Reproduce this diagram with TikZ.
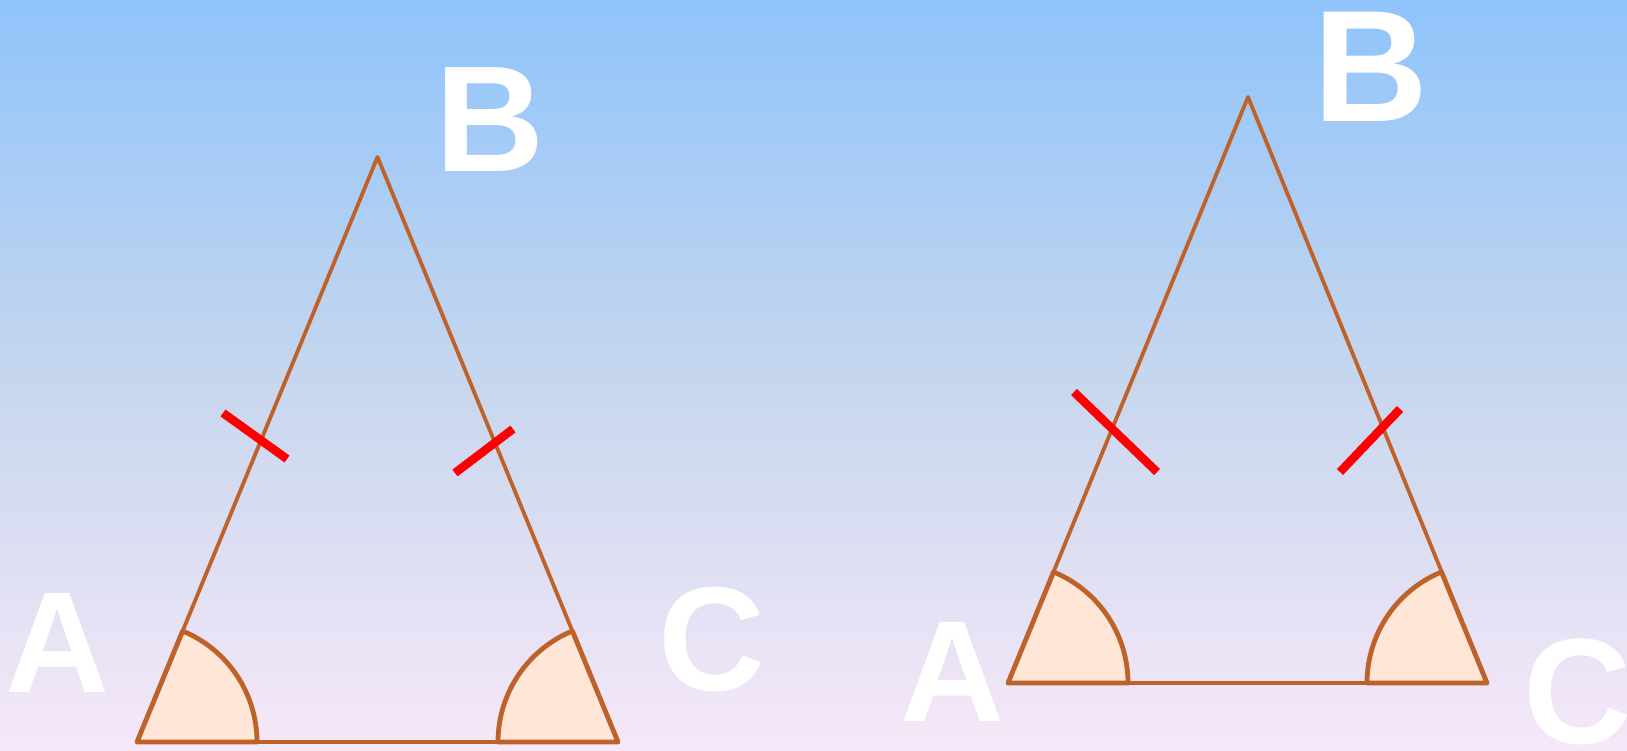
\documentclass[tikz,border=0pt]{standalone}
\usepackage{fontspec}
\setmainfont{Liberation Sans}
\usepackage{tikz}
\usetikzlibrary{calc}

\definecolor{skytop}{RGB}{143,196,251}
\definecolor{skymid}{RGB}{198,214,238}
\definecolor{skybottom}{RGB}{246,232,248}
\definecolor{rust}{RGB}{190,98,42}
\definecolor{peach}{RGB}{255,230,214}

\begin{document}
\begin{tikzpicture}[x=1pt, y=1pt, line join=round]
        % Define styles
        \tikzstyle{trside} = [draw=rust, line width=3.8pt]
        \tikzstyle{anglefill} = [draw=rust, fill=peach, line width=4.8pt]
        \tikzstyle{hashmark} = [draw=red, line width=8.5pt]
        \tikzstyle{vlabel} = [text=white, font=\bfseries\fontsize{144}{144}\selectfont, inner sep=0pt]

        % Background
        \useasboundingbox (0,0) rectangle (1627,750);
        \clip (0,0) rectangle (1627,750);
        \shade[top color=skytop, bottom color=skybottom, middle color=skymid] (0,0) rectangle (1627,750);

        % Left triangle
        \coordinate (A1) at (137,8);
        \coordinate (B1) at (377.5,593);
        \coordinate (C1) at (618,8);
        \draw[trside] (A1) -- (B1) -- (C1) -- cycle;
        \draw[anglefill] (A1) -- ++(0:120) arc[start angle=0, end angle=67.65, radius=120] -- cycle;
        \draw[anglefill] (C1) -- ++(180:120) arc[start angle=180, end angle=112.35, radius=120] -- cycle;
        \coordinate (m1a) at (223,337);
        \coordinate (m1b) at (287,291);
        \coordinate (m1c) at (455,277);
        \coordinate (m1d) at (513,321);
        \draw[hashmark] (m1a) -- (m1b);
        \draw[hashmark] (m1c) -- (m1d);

        % Right triangle
        \coordinate (A2) at (1008,67);
        \coordinate (B2) at (1248,653);
        \coordinate (C2) at (1487,67);
        \draw[trside] (A2) -- (B2) -- (C2) -- cycle;
        \draw[anglefill] (A2) -- ++(0:120) arc[start angle=0, end angle=67.7, radius=120] -- cycle;
        \draw[anglefill] (C2) -- ++(180:120) arc[start angle=180, end angle=112.3, radius=120] -- cycle;
        \coordinate (m2a) at (1074,358);
        \coordinate (m2b) at (1157,278);
        \coordinate (m2c) at (1340,278);
        \coordinate (m2d) at (1400,341);
        \draw[hashmark] (m2a) -- (m2b);
        \draw[hashmark] (m2c) -- (m2d);

        % Vertex labels
        \node (labA1) [vlabel] at (57.5,107.5) {A};
        \node (labB1) [vlabel, font=\bfseries\fontsize{151}{151}\selectfont] at (490,630.5) {B};
        \node (labC1) [vlabel, font=\bfseries\fontsize{148}{148}\selectfont] at (712,110) {C};
        \node (labA2) [vlabel] at (952.5,78) {A};
        \node (labB2) [vlabel, font=\bfseries\fontsize{159}{159}\selectfont] at (1370.5,683) {B};
        \node (labC2) [vlabel, font=\bfseries\fontsize{150}{150}\selectfont] at (1578,58) {C};
\end{tikzpicture}
\end{document}
